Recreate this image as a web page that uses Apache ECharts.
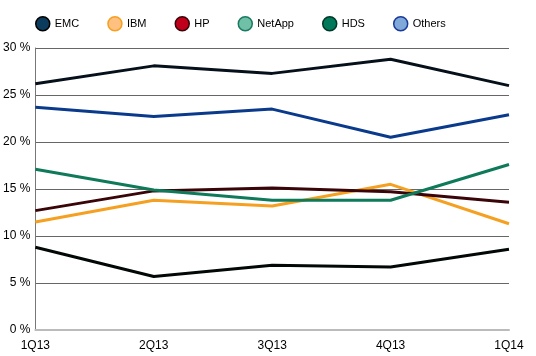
<!DOCTYPE html>
<html><head><meta charset="utf-8">
<script src="https://cdn.jsdelivr.net/npm/echarts@6/dist/echarts.min.js"></script>
<style>html,body{margin:0;padding:0;background:#fff}#c{width:536px;height:356px}</style>
</head><body><div id="c"></div>
<script>
var categories = ['1Q13','2Q13','3Q13','4Q13','1Q14'];
var yTicks = [0,5,10,15,20,25,30];
var emc = [26.2, 28.1, 27.3, 28.8, 26.0];
var ibm = [11.5, 13.8, 13.2, 15.5, 11.3];
var hp = [12.7, 14.8, 15.1, 14.7, 13.6];
var netapp = [8.8, 5.7, 6.9, 6.7, 8.6];
var hds = [17.1, 14.9, 13.8, 13.8, 17.6];
var others = [23.7, 22.7, 23.5, 20.5, 22.9];

var seriesDefs = [
  {name:'EMC', data:emc, line:'#06101a', fill:'#0b3c5d', border:'#000'},
  {name:'IBM', data:ibm, line:'#f5a020', fill:'#ffc080', border:'#f5a020'},
  {name:'HP', data:hp, line:'#3a0508', fill:'#c0001a', border:'#3a0508'},
  {name:'NetApp', data:netapp, line:'#020805', fill:'#70c0a8', border:'#1a7a60'},
  {name:'HDS', data:hds, line:'#0e7a5a', fill:'#00785a', border:'#003828'},
  {name:'Others', data:others, line:'#0a3a8c', fill:'#80a8d8', border:'#1a3a9a'}
];

var chart = echarts.init(document.getElementById('c'));
chart.setOption({
  animation:false,
  legend:{
    left:30, top:11, itemWidth:14, itemHeight:14, itemGap:28, icon:'circle',
    textStyle:{fontFamily:'Liberation Sans, Arial', fontSize:11, color:'#000'},
    data: seriesDefs.map(function(s){return {name:s.name, icon:'circle', itemStyle:{color:s.fill, borderColor:s.border, borderWidth:1.5}};})
  },
  grid:{left:33, right:27, top:48, bottom:26},
  xAxis:{
    type:'category', data:categories, boundaryGap:false,
    axisLine:{lineStyle:{color:'#bbb', width:2}},
    axisTick:{show:false},
    axisLabel:{color:'#000', fontFamily:'Liberation Sans, Arial', fontSize:12, margin:10}
  },
  yAxis:{
    type:'value', min:0, max:30, interval:5,
    axisLine:{show:true, lineStyle:{color:'#777', width:1}},
    axisTick:{show:false},
    splitLine:{lineStyle:{color:'#666', width:1}},
    axisLabel:{color:'#000', fontFamily:'Liberation Sans, Arial', fontSize:12, margin:5, formatter:function(v){return yTicks.indexOf(v)>=0 ? v+' %' : '';}}
  },
  series: seriesDefs.map(function(s){
    return {name:s.name, type:'line', data:s.data, symbol:'none', itemStyle:{color:s.fill},
      lineStyle:{color:s.line, width:3}};
  })
});
</script></body></html>
